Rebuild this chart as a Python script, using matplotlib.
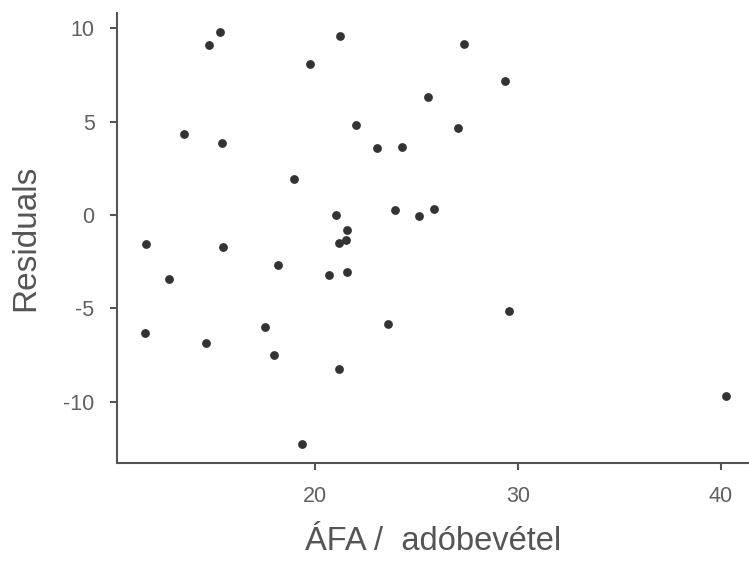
import matplotlib
matplotlib.use('Agg')
import matplotlib.pyplot as plt

plt.rcParams['font.family'] = ['Liberation Sans', 'DejaVu Sans']
plt.rcParams['axes.unicode_minus'] = False

# VAT share of tax revenue vs. model residuals
afa = [11.68, 11.63, 12.81, 13.54, 14.8, 15.33, 15.42, 15.49, 14.64, 17.54,
       17.98, 18.18, 18.97, 19.39, 19.77, 20.68, 21.05, 21.18, 21.18, 21.25,
       21.56, 21.51, 21.59, 22.03, 23.04, 23.61, 23.93, 24.29, 25.12, 25.58,
       25.87, 27.04, 27.33, 29.36, 29.57, 40.25]
resid = [-1.55, -6.3, -3.4, 4.34, 9.1, 9.8, 3.85, -1.7, -6.85, -6.0,
         -7.5, -2.65, 1.93, -12.25, 8.07, -3.2, 0.0, -1.5, -8.26, 9.6,
         -0.8, -1.35, -3.05, 4.85, 3.57, -5.85, 0.27, 3.66, -0.07, 6.34,
         0.35, 4.65, 9.16, 7.2, -5.13, -9.7]

fig = plt.figure(figsize=(7.49, 5.63), dpi=100)
ax = fig.add_axes([0.156, 0.177, 0.844, 0.8])

ax.scatter(afa, resid, s=40, color='#333333', linewidths=0, zorder=3)

ax.set_xlim(10.25, 41.38)
ax.set_ylim(-13.3, 10.83)
ax.set_xticks([20, 30, 40])
ax.set_yticks([-10, -5, 0, 5, 10])

for side in ['top', 'right']:
    ax.spines[side].set_visible(False)
for side in ['left', 'bottom']:
    ax.spines[side].set_color('#555555')
    ax.spines[side].set_linewidth(1.5)

ax.tick_params(axis='both', colors='#555555', labelcolor='#606060',
               labelsize=15.5, length=5, width=1.5, pad=11)

ax.set_xlabel('ÁFA /  adóbevétel', fontsize=23.5, color='#555555', labelpad=14)
ax.set_ylabel('Residuals', fontsize=24, color='#555555', labelpad=16)

fig.savefig('out.png', dpi=100)
